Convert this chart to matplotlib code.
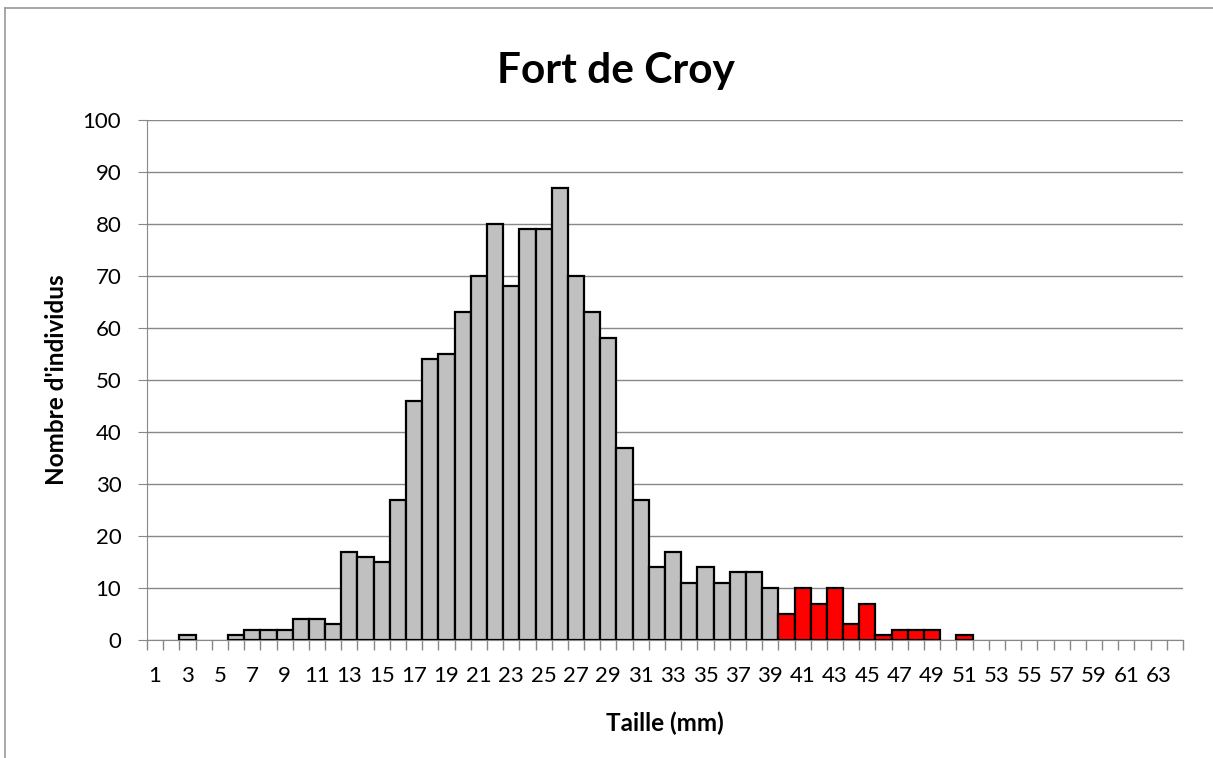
import numpy as np
import matplotlib.pyplot as plt
from matplotlib.lines import Line2D

# size classes (mm) and counts
tailles = np.arange(1, 65)
effectifs = np.array([0, 0, 1, 0, 0, 1, 2, 2, 2, 4,
                      4, 3, 17, 16, 15, 27, 46, 54, 55, 63,
                      70, 80, 68, 79, 79, 87, 70, 63, 58, 37,
                      27, 14, 17, 11, 14, 11, 13, 13, 10, 5,
                      10, 7, 10, 3, 7, 1, 2, 2, 2, 0,
                      1, 0, 0, 0, 0, 0, 0, 0, 0, 0,
                      0, 0, 0, 0])
seuil_rouge = 40  # sizes from here on are drawn in red

plt.rcParams['font.family'] = ['Lato', 'DejaVu Sans']

W, H = 1213, 758
fig = plt.figure(figsize=(W / 100, H / 100), dpi=100)
ax = fig.add_axes([147 / W, 1 - 640 / H, 1036 / W, 520 / H])

# empty classes get no bar at all
m = effectifs > 0
couleurs = np.where(tailles >= seuil_rouge, '#ff0000', '#c0c0c0')
ax.bar(tailles[m], effectifs[m], width=1.0, color=couleurs[m], edgecolor='black',
       linewidth=1.6, zorder=3)

ax.set_xlim(0.5, 64.5)
ax.set_ylim(0, 100)
ax.set_yticks(np.arange(0, 101, 10))
ax.set_xticks(tailles[::2])
ax.set_xticks(np.arange(0.5, 65, 1), minor=True)
ax.tick_params(axis='x', which='major', length=0, labelsize=16, pad=18.5)
ax.tick_params(axis='x', which='minor', length=7, color='#888888', width=1)
ax.tick_params(axis='y', length=6.5, color='#888888', labelsize=16, pad=12)
ax.grid(axis='y', color='#888888', linewidth=1, zorder=0)

for side in ['top', 'right']:
    ax.spines[side].set_visible(False)
for side in ['left', 'bottom']:
    ax.spines[side].set_color('#888888')

fig.text(616 / W, 1 - 83 / H, "Fort de Croy", fontsize=30.5, fontweight='bold',
         ha='center', va='baseline')
fig.text(665 / W, 1 - 723 / H, "Taille (mm)", fontsize=17.5, fontweight='bold',
         ha='center', va='center')
fig.text(57 / W, 1 - 380 / H, "Nombre d'individus", fontsize=17.5, fontweight='bold',
         ha='center', va='center', rotation=90)

# chart frame (only top and left edges are visible in the crop)
fig.add_artist(Line2D([5 / W, 1], [1 - 8 / H, 1 - 8 / H], transform=fig.transFigure,
                      color='#999999', linewidth=1.2))
fig.add_artist(Line2D([5 / W, 5 / W], [0, 1 - 8 / H], transform=fig.transFigure,
                      color='#999999', linewidth=1.2))

fig.savefig('out.png', dpi=100)
